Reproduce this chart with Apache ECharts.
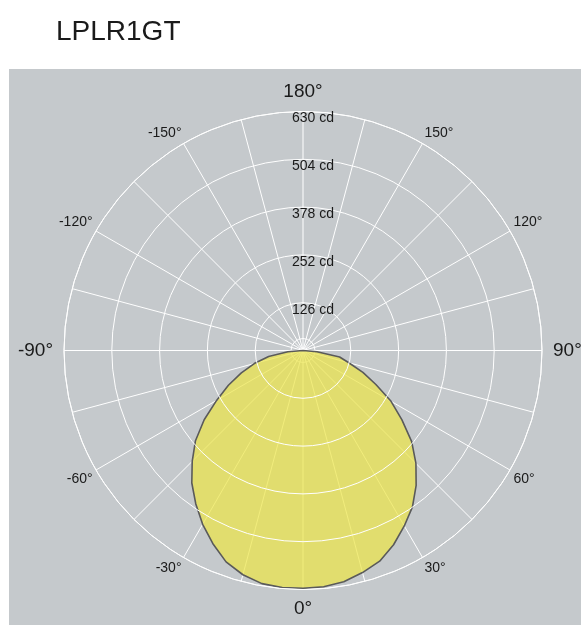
<!DOCTYPE html>
<html>
<head>
<meta charset="utf-8">
<script src="https://cdn.jsdelivr.net/npm/echarts@6/dist/echarts.min.js"></script>
<style>html,body{margin:0;padding:0;background:#fff;}#c{width:581px;height:625px;}</style>
</head>
<body>
<div id="c"></div>
<script>
// Luminous intensity (cd) vs angle (deg), lower hemisphere
var angles = [-90,-85,-80,-75,-70,-65,-60,-55,-50,-45,-40,-35,-30,-25,-20,-15,-10,-5,0,5,10,15,20,25,30,35,40,45,50,55,60,65,70,75,80,85,90];
var intensity = [0,40,92,133,173,217,263,318,370,413,456,493,529,562,593,612,624,627,627,625,619,606,591,565,534,503,464,421,374,318,268,212,168,125,98,37,0];
var radiusTicks = [126,252,378,504,630];
var angleLabelValues = [-150,-120,-90,-60,-30,0,30,60,90,120,150,180];

var title = 'LPLR1GT';

var chart = echarts.init(document.getElementById('c'), null, {renderer:'canvas'});
var data = angles.map(function(a,i){return [intensity[i], a];});
var big = {'-90':'l','90':'r','0':'b','180':'t'};
var FONT = 'Liberation Sans, Arial, sans-serif';

chart.setOption({
  animation:false,
  backgroundColor:'#ffffff',
  title:{text:title,left:51,top:13,textStyle:{fontFamily:FONT,fontSize:28,fontWeight:'normal',color:'#1a1a1a'}},
  graphic:[{type:'rect',z:-10,silent:true,shape:{x:9,y:69,width:572,height:556},style:{fill:'#c5c9cc'}}],
  polar:[{center:[303,350.5],radius:239},{center:[303,350.5],radius:12}],
  angleAxis:[{
    polarIndex:0,type:'value',min:-180,max:180,interval:15,startAngle:90,clockwise:false,
    axisLine:{show:true,lineStyle:{color:'#ffffff',width:1}},
    axisTick:{show:false},
    splitLine:{show:true,lineStyle:{color:'#ffffff',width:1}},
    axisLabel:{
      show:true,margin:4,color:'#1a1a1a',fontFamily:FONT,fontSize:14,
      formatter:function(v){
        if(v===-180) v = 180;
        if(angleLabelValues.indexOf(v)<0) return '';
        var k=big[String(v)];
        if(k) return '{'+k+'|'+v+'°}';
        return '{s|'+v+'°}';
      },
      rich:{
        s:{fontSize:14,color:'#1a1a1a',fontFamily:FONT},
        l:{fontSize:19,color:'#1a1a1a',fontFamily:FONT,padding:[0,7,0,0]},
        r:{fontSize:19,color:'#1a1a1a',fontFamily:FONT,padding:[0,0,0,7]},
        b:{fontSize:19,color:'#1a1a1a',fontFamily:FONT,padding:[6,0,0,0]},
        t:{fontSize:19,color:'#1a1a1a',fontFamily:FONT,padding:[0,0,6,0]}
      }
    }
  },{
    polarIndex:1,type:'value',min:0,max:360,show:false
  }],
  radiusAxis:[{
    polarIndex:0,type:'value',min:0,max:630,interval:126,
    axisLine:{show:false},axisTick:{show:false},
    splitLine:{show:true,lineStyle:{color:'#ffffff',width:1}},
    axisLabel:{
      show:true,margin:-10,align:'center',verticalAlign:'top',rotate:0,
      color:'#1a1a1a',fontFamily:FONT,fontSize:14,
      formatter:function(v){return radiusTicks.indexOf(v)>=0 ? v+' cd' : '';}
    },
    z:5
  },{
    polarIndex:1,type:'value',min:0,max:1,interval:1,
    axisLine:{show:false},axisTick:{show:false},axisLabel:{show:false},
    splitLine:{show:true,lineStyle:{color:'#ffffff',width:1}}
  }],
  series:[{
    type:'line',coordinateSystem:'polar',polarIndex:0,data:data,
    showSymbol:false,symbol:'none',smooth:false,
    lineStyle:{color:'#5a5a5a',width:1.6},
    areaStyle:{color:'rgb(236,228,74)',opacity:0.72,origin:'start'},
    z:3
  }]
});
</script>
</body>
</html>
